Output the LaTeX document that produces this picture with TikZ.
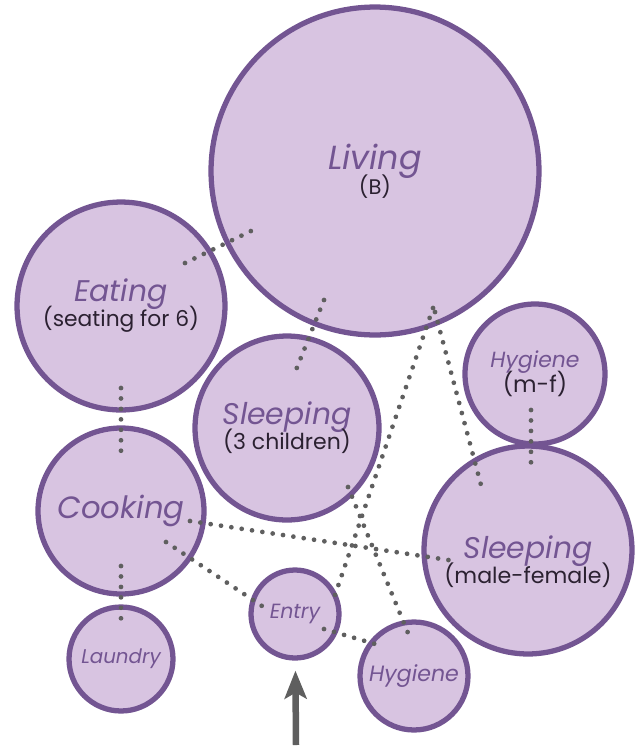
\documentclass[tikz,border=0pt]{standalone}
\usepackage{fontspec}
\setmainfont{Poppins}
\usepackage{tikz}
\usetikzlibrary{calc}
\usetikzlibrary{arrows.meta}
\definecolor{roomfill}{HTML}{D8C4E1}
\definecolor{roomline}{HTML}{735592}
\definecolor{linkgrey}{HTML}{5F5F5F}
\definecolor{notetext}{HTML}{2B2131}

\begin{document}
\begin{tikzpicture}[x=0.02cm, y=-0.02cm,
  room/.style={circle, draw=roomline, fill=roomfill, line width=3pt, minimum size=#1, inner sep=0pt, align=center},
  link/.style={draw=linkgrey, line width=2.7pt, line cap=round, dash pattern=on 0pt off 5.95pt},
  way/.style={draw=linkgrey, line width=3.7pt, -{Stealth[length=0.56cm, width=0.44cm, inset=0.12cm]}}]
\useasboundingbox (0,0) rectangle (635,751);
% -- rooms --
\node[room=6.56cm] (liv) at (375,171) {\fontsize{19}{21}\selectfont\itshape\color{roomline}Living\\[-3pt] \fontsize{12}{13}\selectfont\upshape\color{notetext}(B)};
\node[room=4.16cm] (eat) at (121,306) {\fontsize{17}{19}\selectfont\itshape\color{roomline}Eating\\[-3pt] \fontsize{12.4}{13}\selectfont\upshape\color{notetext}(seating for 6)};
\node[room=3.68cm] (slc) at (287,428) {\fontsize{17}{19}\selectfont\itshape\color{roomline}Sleeping\\[-3pt] \fontsize{12.5}{13}\selectfont\upshape\color{notetext}(3 children)};
\node[room=2.8cm] (hyg) at (535,374) {\fontsize{12.5}{13}\selectfont\itshape\color{roomline}Hygiene\\[-2pt] \fontsize{13}{14}\selectfont\upshape\color{notetext}(m-f)};
\node[room=3.32cm] (coo) at (121,511) {\fontsize{17.5}{19}\selectfont\itshape\color{roomline}Cooking};
\node[room=4.16cm] (slp) at (528,550) {};
\node (slp-txt) at ($(slp)+(0,12)$) [align=center] {\fontsize{17}{19}\selectfont\itshape\color{roomline}Sleeping\\[-3pt] \fontsize{12.6}{14}\selectfont\upshape\color{notetext}(male-female)};
\node[room=1.76cm] (ent) at (295,614) {\fontsize{11.7}{12}\selectfont\itshape\color{roomline}Entry};
\node[room=2.08cm] (lau) at (121,659) {\fontsize{11.3}{12}\selectfont\itshape\color{roomline}Laundry};
\node[room=2.16cm] (hyb) at (414,676) {\fontsize{12.6}{13}\selectfont\itshape\color{roomline}Hygiene};
% -- links --
\draw[link] ($(eat)+(64,-43)$) -- ($(liv)+(-124,60)$);
\draw[link] ($(liv)+(-51,129)$) -- ($(slc)+(9,-58)$);
\draw[link] ($(eat)+(0,82)$) -- ($(coo)+(0,-55)$);
\draw[link] ($(liv)+(60,141)$) -- ($(slp)+(-47,-65)$);
\draw[link] ($(liv)+(58,137)$) -- ($(ent)+(39,-16)$);
\draw[link] ($(hyg)+(-4,36)$) -- ($(slp)+(3,-84)$);
\draw[link] ($(coo)+(0,55)$) -- ($(lau)+(0,-31)$);
\draw[link] ($(coo)+(69,10)$) -- ($(slp)+(-73,11)$);
\draw[link] ($(coo)+(45,31)$) -- ($(ent)+(-30,-6)$);
\draw[link] ($(ent)+(29,15)$) -- ($(hyb)+(-32,-30)$);
\draw[link] ($(slc)+(61,59)$) -- ($(hyb)+(-6,-43)$);
% -- way in --
\coordinate (door) at (296,745);
\draw[way, shorten >=0.2cm] (door) -- (ent);
\end{tikzpicture}
\end{document}
